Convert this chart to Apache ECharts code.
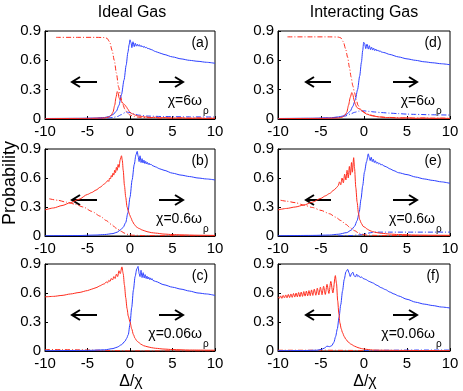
<!doctype html>
<html>
<head>
<meta charset="UTF-8">
<title>Probability panels</title>
<script src="https://cdn.jsdelivr.net/npm/echarts@6.0.0/dist/echarts.min.js"></script>
<style>
  html, body { margin: 0; padding: 0; background: #fff; }
  #main { width: 463px; height: 391px; }
</style>
</head>
<body>
<div id="main"></div>
<script>
// tick labels
var xTicks = [-10, -5, 0, 5, 10];
var yTicks = [0, 0.3, 0.6, 0.9];
var panelTags = ['(a)', '(b)', '(c)', '(d)', '(e)', '(f)'];
var chiTags = ['\u03c7=6\u03c9', '\u03c7=0.6\u03c9', '\u03c7=0.06\u03c9', '\u03c7=6\u03c9', '\u03c7=0.6\u03c9', '\u03c7=0.06\u03c9'];

// (a) ideal gas, chi = 6 omega_rho
var aBlue = [[-10,0.005],[-6,0.007],[-4,0.01],[-3,0.015],[-2.5,0.025],[-2,0.045],[-1.6,0.08],[-1.3,0.14],[-1,0.25],[-0.7,0.4],[-0.45,0.55],[-0.25,0.68],[-0.1,0.76],[0,0.81],[0.12,0.78],[0.22,0.73],[0.35,0.79],[0.5,0.74],[0.62,0.775],[0.75,0.745],[0.87,0.765],[0.98,0.745],[1.1,0.76],[1.2,0.742],[1.3,0.752],[1.4,0.738],[1.5,0.747],[1.6,0.733],[1.7,0.741],[1.8,0.728],[1.9,0.735],[2.0,0.724],[2.2,0.72],[2.5,0.71],[3,0.69],[3.5,0.675],[4,0.66],[5,0.635],[6,0.615],[7,0.6],[8,0.59],[9,0.58],[10,0.57]];
var aRed = [[-10,0.004],[-5,0.006],[-3,0.01],[-2.5,0.02],[-2.2,0.04],[-2,0.07],[-1.8,0.14],[-1.65,0.22],[-1.5,0.28],[-1.4,0.27],[-1.3,0.22],[-1.2,0.2],[-1.1,0.21],[-1,0.18],[-0.85,0.16],[-0.7,0.15],[-0.55,0.14],[-0.4,0.12],[-0.25,0.1],[-0.1,0.08],[0,0.07],[0.2,0.055],[0.4,0.05],[0.6,0.04],[0.8,0.035],[1.0,0.03],[1.3,0.028],[1.6,0.022],[2,0.02],[2.5,0.015],[3,0.018],[3.5,0.01],[4,0.014],[5,0.008],[6,0.012],[7,0.006],[8,0.01],[9,0.005],[10,0.008]];
var aRedDD = [[-8.7,0.835],[-6,0.835],[-4,0.835],[-3,0.833],[-2.7,0.825],[-2.4,0.79],[-2.1,0.7],[-1.85,0.6],[-1.6,0.47],[-1.35,0.33],[-1.1,0.23],[-0.85,0.15],[-0.6,0.1],[-0.3,0.06],[0,0.04],[0.5,0.025],[1,0.018],[2,0.013],[4,0.01],[10,0.008]];
var aBlueDD = [[-5,0.003],[-3,0.008],[-2,0.015],[-1.5,0.025],[-1,0.045],[-0.6,0.065],[-0.3,0.07],[0,0.065],[0.5,0.05],[1,0.04],[2,0.03],[4,0.025],[7,0.022],[10,0.02]];

// (b) ideal gas, chi = 0.6 omega_rho
var bBlue = [[-10,0.003],[-6,0.005],[-4,0.01],[-3,0.015],[-2,0.025],[-1.5,0.04],[-1.1,0.065],[-0.8,0.09],[-0.5,0.14],[-0.25,0.24],[0,0.4],[0.25,0.58],[0.5,0.74],[0.7,0.84],[0.85,0.875],[0.97,0.82],[1.07,0.77],[1.18,0.83],[1.3,0.76],[1.42,0.8],[1.53,0.755],[1.64,0.785],[1.75,0.75],[1.85,0.772],[1.95,0.745],[2.05,0.762],[2.15,0.74],[2.25,0.753],[2.35,0.735],[2.45,0.745],[2.6,0.73],[3,0.715],[3.5,0.695],[4,0.68],[5,0.65],[6,0.63],[7,0.615],[8,0.6],[9,0.59],[10,0.58]];
var bRed = [[-10,0.27],[-9,0.29],[-8,0.315],[-7,0.345],[-6,0.38],[-5,0.43],[-4.5,0.45],[-4,0.475],[-3.5,0.505],[-3,0.54],[-2.8,0.555],[-2.6,0.575],[-2.5,0.565],[-2.4,0.6],[-2.3,0.59],[-2.2,0.625],[-2.1,0.61],[-2.0,0.65],[-1.9,0.63],[-1.8,0.68],[-1.7,0.655],[-1.6,0.71],[-1.5,0.68],[-1.4,0.74],[-1.3,0.71],[-1.15,0.79],[-1.0,0.83],[-0.9,0.78],[-0.8,0.68],[-0.65,0.52],[-0.5,0.4],[-0.35,0.3],[-0.2,0.26],[-0.05,0.22],[0.1,0.19],[0.3,0.15],[0.5,0.12],[0.75,0.095],[1,0.08],[1.5,0.06],[2,0.045],[2.5,0.035],[3,0.03],[4,0.02],[5,0.015],[6,0.012],[8,0.008],[10,0.006]];
var bRedDD = [[-9.5,0.385],[-8.5,0.37],[-7.5,0.35],[-6.5,0.33],[-5.5,0.3],[-4.5,0.255],[-3.5,0.205],[-2.8,0.16],[-2.2,0.12],[-1.6,0.08],[-1.1,0.05],[-0.6,0.028],[-0.2,0.015],[0.3,0.008],[2,0.004],[10,0.002]];

// (c) ideal gas, chi = 0.06 omega_rho
var cBlue = [[-10,0.003],[-5,0.006],[-3,0.012],[-2,0.025],[-1.5,0.04],[-1,0.065],[-0.6,0.1],[-0.4,0.13],[-0.2,0.17],[0,0.28],[0.2,0.45],[0.4,0.63],[0.6,0.77],[0.8,0.85],[0.95,0.875],[1.08,0.8],[1.18,0.77],[1.3,0.835],[1.42,0.76],[1.55,0.81],[1.67,0.755],[1.78,0.79],[1.9,0.75],[2.0,0.775],[2.1,0.745],[2.2,0.765],[2.3,0.74],[2.4,0.756],[2.5,0.735],[2.6,0.748],[2.7,0.73],[3,0.72],[4,0.685],[5,0.66],[6,0.64],[7,0.62],[8,0.6],[9,0.59],[10,0.575]];
var cRed = [[-10,0.56],[-9,0.565],[-8,0.575],[-7,0.59],[-6,0.605],[-5,0.625],[-4.5,0.64],[-4,0.655],[-3.5,0.675],[-3.2,0.69],[-3.0,0.695],[-2.8,0.715],[-2.65,0.705],[-2.5,0.73],[-2.35,0.72],[-2.2,0.75],[-2.05,0.735],[-1.9,0.77],[-1.75,0.75],[-1.6,0.795],[-1.45,0.77],[-1.3,0.83],[-1.15,0.8],[-0.95,0.87],[-0.8,0.8],[-0.65,0.68],[-0.5,0.55],[-0.35,0.44],[-0.2,0.36],[0,0.3],[0.2,0.23],[0.4,0.17],[0.6,0.13],[0.8,0.105],[1,0.09],[1.3,0.07],[1.6,0.055],[2,0.045],[2.5,0.035],[3,0.028],[4,0.02],[5,0.015],[7,0.01],[10,0.008]];
var cRedDD = [[-10,0.015],[-8,0.014],[-6,0.012],[-4,0.008],[-2,0.004],[0,0.002],[10,0.001]];

// (d) interacting gas, chi = 6 omega_rho
var dBlue = [[-10,0.005],[-6,0.008],[-4,0.012],[-3,0.02],[-2.5,0.03],[-2,0.05],[-1.6,0.08],[-1.3,0.13],[-1,0.2],[-0.75,0.3],[-0.5,0.44],[-0.3,0.58],[-0.15,0.7],[-0.04,0.785],[0.08,0.77],[0.2,0.72],[0.35,0.765],[0.5,0.715],[0.62,0.75],[0.75,0.71],[0.88,0.735],[1.0,0.705],[1.12,0.725],[1.25,0.7],[1.38,0.715],[1.5,0.695],[1.62,0.706],[1.75,0.69],[1.88,0.698],[2.0,0.685],[2.3,0.68],[3,0.66],[4,0.635],[5,0.615],[6,0.6],[7,0.585],[8,0.575],[9,0.565],[10,0.555]];
var dRed = [[-10,0.004],[-5,0.006],[-3,0.01],[-2.5,0.02],[-2.2,0.04],[-2,0.07],[-1.8,0.14],[-1.6,0.22],[-1.42,0.27],[-1.3,0.25],[-1.15,0.19],[-1,0.15],[-0.85,0.12],[-0.7,0.11],[-0.5,0.1],[-0.3,0.09],[-0.1,0.075],[0.1,0.06],[0.3,0.05],[0.5,0.045],[0.8,0.035],[1.2,0.03],[1.6,0.022],[2,0.02],[2.5,0.014],[3,0.016],[4,0.01],[5,0.012],[6,0.007],[7,0.01],[8,0.006],[9,0.008],[10,0.005]];
var dRedDD = [[-8.9,0.84],[-6,0.84],[-4,0.84],[-3,0.838],[-2.7,0.83],[-2.4,0.79],[-2.15,0.72],[-1.9,0.63],[-1.7,0.53],[-1.5,0.43],[-1.3,0.34],[-1.1,0.27],[-0.9,0.2],[-0.7,0.14],[-0.4,0.1],[-0.2,0.08],[0.2,0.06],[0.6,0.045],[1.2,0.03],[2,0.02],[3,0.014],[5,0.01],[10,0.008]];
var dBlueDD = [[-6,0.004],[-4,0.01],[-3,0.018],[-2.2,0.03],[-1.6,0.05],[-1.1,0.068],[-0.6,0.08],[0,0.083],[0.6,0.078],[1.2,0.072],[2,0.066],[3,0.06],[4,0.055],[5,0.05],[6,0.047],[8,0.043],[10,0.04]];

// (e) interacting gas, chi = 0.6 omega_rho
var eBlue = [[-10,0.003],[-6,0.006],[-4,0.01],[-3,0.018],[-2,0.035],[-1.5,0.06],[-1.1,0.1],[-0.8,0.16],[-0.55,0.25],[-0.35,0.38],[-0.15,0.52],[0.05,0.66],[0.3,0.77],[0.5,0.85],[0.62,0.81],[0.72,0.78],[0.84,0.815],[0.96,0.77],[1.08,0.795],[1.2,0.76],[1.32,0.778],[1.45,0.752],[1.57,0.764],[1.7,0.744],[1.82,0.753],[1.95,0.736],[2.1,0.74],[2.3,0.726],[2.6,0.715],[3,0.695],[3.5,0.675],[4,0.655],[5,0.635],[6,0.61],[7,0.59],[8,0.575],[9,0.56],[10,0.545]];
var eRed = [[-10,0.27],[-9,0.285],[-8,0.3],[-7,0.32],[-6,0.35],[-5,0.39],[-4.5,0.415],[-4,0.44],[-3.5,0.475],[-3.2,0.5],[-3.0,0.52],[-2.85,0.56],[-2.7,0.53],[-2.55,0.6],[-2.4,0.55],[-2.25,0.64],[-2.1,0.58],[-1.97,0.68],[-1.83,0.6],[-1.7,0.72],[-1.58,0.63],[-1.45,0.76],[-1.35,0.66],[-1.2,0.81],[-1.1,0.7],[-0.95,0.5],[-0.8,0.35],[-0.65,0.24],[-0.5,0.17],[-0.3,0.13],[-0.1,0.1],[0.1,0.09],[0.4,0.07],[0.7,0.055],[1,0.045],[1.5,0.035],[2,0.028],[3,0.02],[4,0.015],[6,0.01],[8,0.008],[10,0.007]];
var eRedDD = [[-9.7,0.37],[-9,0.36],[-8,0.345],[-7,0.32],[-6,0.295],[-5,0.265],[-4,0.23],[-3.3,0.195],[-2.7,0.16],[-2.1,0.12],[-1.6,0.085],[-1.1,0.055],[-0.6,0.03],[-0.2,0.015],[0.5,0.008],[2,0.005],[10,0.003]];
var eBlueDD = [[-3,0.002],[-1.5,0.005],[-0.5,0.012],[0,0.02],[0.5,0.03],[1,0.037],[1.5,0.04],[3,0.04],[6,0.04],[10,0.04]];

// (f) interacting gas, chi = 0.06 omega_rho
var fBlue = [[-10,0.004],[-7,0.005],[-5.5,0.008],[-5,0.015],[-4.6,0.03],[-4.3,0.05],[-4.0,0.045],[-3.75,0.055],[-3.5,0.09],[-3.3,0.15],[-3.1,0.23],[-2.9,0.35],[-2.7,0.48],[-2.5,0.62],[-2.3,0.74],[-2.1,0.82],[-1.9,0.845],[-1.75,0.81],[-1.6,0.77],[-1.45,0.8],[-1.3,0.815],[-1.15,0.78],[-1.0,0.765],[-0.85,0.795],[-0.72,0.77],[-0.6,0.78],[-0.45,0.76],[-0.3,0.767],[-0.1,0.75],[0.2,0.74],[0.6,0.72],[1,0.705],[1.5,0.68],[2,0.655],[2.5,0.635],[3,0.61],[3.5,0.59],[4,0.57],[5,0.535],[6,0.505],[7,0.485],[8,0.47],[9,0.455],[10,0.445]];
var fRed = [[-10,0.56],[-9.85,0.545],[-9.7,0.57],[-9.55,0.545],[-9.4,0.575],[-9.25,0.55],[-9.1,0.58],[-8.95,0.55],[-8.8,0.585],[-8.65,0.553],[-8.5,0.59],[-8.35,0.555],[-8.2,0.595],[-8.05,0.558],[-7.9,0.6],[-7.75,0.56],[-7.6,0.605],[-7.45,0.562],[-7.3,0.61],[-7.15,0.565],[-7.0,0.615],[-6.85,0.568],[-6.7,0.62],[-6.55,0.57],[-6.4,0.625],[-6.25,0.573],[-6.1,0.632],[-5.95,0.575],[-5.78,0.64],[-5.6,0.577],[-5.43,0.65],[-5.25,0.58],[-5.07,0.66],[-4.88,0.582],[-4.7,0.67],[-4.5,0.585],[-4.3,0.69],[-4.08,0.595],[-3.86,0.72],[-3.62,0.6],[-3.33,0.78],[-3.2,0.7],[-3.06,0.52],[-2.92,0.38],[-2.8,0.29],[-2.65,0.23],[-2.5,0.19],[-2.3,0.15],[-2.1,0.12],[-1.8,0.09],[-1.5,0.07],[-1.1,0.05],[-0.7,0.035],[-0.3,0.025],[0,0.02],[0.5,0.015],[1,0.01],[2,0.008],[4,0.006],[7,0.005],[10,0.005]];
var fRedDD = [[-10,0.008],[-5,0.008],[0,0.005]];
var fBlueDD = [[0,0.006],[3,0.008],[6,0.01],[10,0.01]];

var panels = [
    {blue: aBlue, red: aRed, redDD: aRedDD, blueDD: aBlueDD},
    {blue: bBlue, red: bRed, redDD: bRedDD, blueDD: null},
    {blue: cBlue, red: cRed, redDD: cRedDD, blueDD: null},
    {blue: dBlue, red: dRed, redDD: dRedDD, blueDD: dBlueDD},
    {blue: eBlue, red: eRed, redDD: eRedDD, blueDD: eBlueDD},
    {blue: fBlue, red: fRed, redDD: fRedDD, blueDD: fBlueDD}
];

var RED = '#ff2b1c';
var BLUE = '#2b3fff';
var FONT = 'Liberation Sans';

var lefts = [45, 45, 45, 278, 278, 278];
var tops = [31, 149, 264, 31, 149, 264];
var widths = [170, 170, 170, 172, 172, 172];
var heights = [88, 87, 87, 88, 87, 87];

var grids = [], xAxes = [], yAxes = [], series = [], graphics = [];

function addLine(data, gi, color, dashed) {
    if (!data) return;
    series.push({
        type: 'line',
        xAxisIndex: gi,
        yAxisIndex: gi,
        data: data,
        showSymbol: false,
        smooth: 0.25,
        smoothMonotone: 'x',
        lineStyle: {color: color, width: 1, type: dashed ? [5, 2, 1, 2] : 'solid'},
        silent: true
    });
}

for (var i = 0; i < 6; i++) {
    var L = lefts[i], T = tops[i], W = widths[i], H = heights[i];
    grids.push({left: L, top: T, width: W, height: H, show: true, borderColor: '#000', borderWidth: 1, backgroundColor: '#fff'});
    xAxes.push({
        type: 'value', gridIndex: i, min: xTicks[0], max: xTicks[xTicks.length - 1], interval: 5,
        axisLine: {show: true, onZero: false, lineStyle: {color: '#000', width: 1}},
        axisTick: {show: true, inside: true, length: 3, lineStyle: {color: '#000'}},
        axisLabel: {color: '#000', fontSize: 15, fontFamily: FONT, margin: 5},
        splitLine: {show: false}
    });
    yAxes.push({
        type: 'value', gridIndex: i, min: yTicks[0], max: yTicks[yTicks.length - 1], interval: 0.3,
        axisLine: {show: true, onZero: false, lineStyle: {color: '#000', width: 1}},
        axisTick: {show: true, inside: true, length: 3, lineStyle: {color: '#000'}},
        axisLabel: {color: '#000', fontSize: 15, fontFamily: FONT, margin: 4},
        splitLine: {show: false}
    });

    var p = panels[i];
    addLine(p.blueDD, i, BLUE, true);
    addLine(p.redDD, i, RED, true);
    addLine(p.blue, i, BLUE, false);
    addLine(p.red, i, RED, false);

    // arrows
    var off = i < 3 ? 0 : 1;
    var ay = T + 51;
    var l1 = L + 27 + off, l2 = L + 52 + off, r1 = L + 114 + off, r2 = L + 138 + off;
    var st = {stroke: '#000', lineWidth: 2, fill: null};
    graphics.push({type: 'polyline', shape: {points: [[l1, ay], [l2, ay]]}, style: st});
    graphics.push({type: 'polyline', shape: {points: [[l1 + 8, ay - 5], [l1, ay], [l1 + 8, ay + 5]]}, style: st});
    graphics.push({type: 'polyline', shape: {points: [[r1, ay], [r2, ay]]}, style: st});
    graphics.push({type: 'polyline', shape: {points: [[r2 - 8, ay - 5], [r2, ay], [r2 - 8, ay + 5]]}, style: st});

    // panel tag
    graphics.push({type: 'text', x: L + W - 15 - off * 2, y: T + 12,
        style: {text: panelTags[i], fill: '#000', font: '14px ' + FONT, textAlign: 'center', textVerticalAlign: 'middle'}});
    // chi label
    var cx = L + W - 13 - off * 2;
    graphics.push({type: 'text', x: cx, y: T + 70,
        style: {text: chiTags[i], fill: '#000', font: '14px ' + FONT, textAlign: 'right', textVerticalAlign: 'middle'}});
    graphics.push({type: 'text', x: cx + 1, y: T + 80,
        style: {text: '\u03c1', fill: '#000', font: '10px ' + FONT, textAlign: 'left', textVerticalAlign: 'middle'}});
}

graphics.push({type: 'text', x: 132, y: 13, style: {text: 'Ideal Gas', fill: '#000', font: '16px ' + FONT, textAlign: 'center', textVerticalAlign: 'middle'}});
graphics.push({type: 'text', x: 364, y: 13, style: {text: 'Interacting Gas', fill: '#000', font: '16px ' + FONT, textAlign: 'center', textVerticalAlign: 'middle'}});
graphics.push({type: 'text', x: 131, y: 382, style: {text: '\u0394/\u03c7', fill: '#000', font: '16px ' + FONT, textAlign: 'center', textVerticalAlign: 'middle'}});
graphics.push({type: 'text', x: 365, y: 382, style: {text: '\u0394/\u03c7', fill: '#000', font: '16px ' + FONT, textAlign: 'center', textVerticalAlign: 'middle'}});
graphics.push({type: 'text', x: 10, y: 183, rotation: Math.PI / 2,
    style: {text: 'Probability', fill: '#000', font: '18px ' + FONT, textAlign: 'center', textVerticalAlign: 'middle'}});

var myChart = echarts.init(document.getElementById('main'), null, {renderer: 'canvas'});
myChart.setOption({
    animation: false,
    backgroundColor: '#fff',
    grid: grids,
    xAxis: xAxes,
    yAxis: yAxes,
    series: series,
    graphic: {elements: graphics}
});
</script>
</body>
</html>
